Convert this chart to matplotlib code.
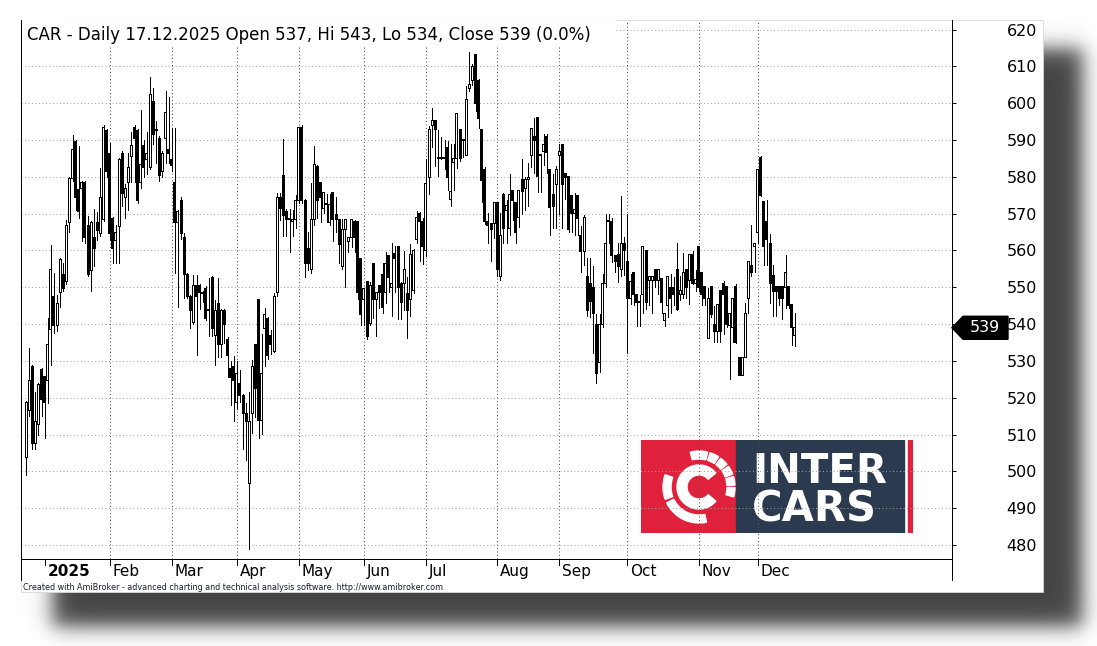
import numpy as np
import pandas as pd
import matplotlib
matplotlib.use("Agg")
import matplotlib.pyplot as plt
import matplotlib.transforms as mtransforms
from matplotlib.patches import Rectangle, Polygon, Wedge
from matplotlib.lines import Line2D

# GPW session calendar, 18.12.2024 - 17.12.2025
holidays = ["2024-12-24", "2024-12-25", "2024-12-26", "2024-12-31",
            "2025-01-01", "2025-01-06", "2025-04-18", "2025-04-21",
            "2025-05-01", "2025-06-19", "2025-08-15", "2025-11-11"]

# CAR daily OHLC
opens = [
    503.8, 516.5, 528.6, 507.6, 512.8, 527.8,
    525.7, 524.6, 538.6, 547.6, 539.7, 548.6, 553.6, 551.5, 567.6, 579.6, 589.5,
    576.6, 576.7, 578.5, 566.7, 554.5, 563.6, 567.7, 564.7, 568.5, 592.5,
    586.4, 568.6, 562.8, 566.5, 586.4, 574.4, 578.4, 585.5, 593.5, 592.5,
    578.4, 588.6, 584.6, 582.6, 600.5, 592.5, 590.5, 581.4, 590.5, 587.5,
    584.6, 578.5, 567.7, 573.7, 563.6, 553.5, 547.5, 540.5, 550.6, 550.6, 548.3,
    549.7, 543.8, 552.7, 537.0, 545.7, 534.5, 543.8, 535.7, 528.0, 528.6,
    518.7, 523.9, 520.7, 515.8, 496.7, 515.8, 534.5, 546.7, 513.7, 538.7,
    541.6, 536.8, 532.5, 548.6, 574.5, 580.4, 570.6, 568.5, 568.0, 568.3,
    573.6, 593.5, 573.6, 560.6, 554.7, 568.5, 582.8, 578.5, 571.5, 572.6, 567.6,
    575.7, 569.7, 568.5, 555.6, 565.6, 562.4, 563.6, 567.8, 567.8, 557.7,
    546.7, 551.7, 540.2, 556.5, 546.7, 550.6, 553.6, 548.6, 558.7, 550.0,
    559.1, 561.2, 551.1, 551.1, 548.4, 546.8, 549.0, 563.0, 570.1, 567.8,
    560.0, 579.9, 593.9, 595.2, 585.1, 585.1, 585.0, 588.0, 573.9, 583.9, 585.1, 592.9,
    590.0, 585.8, 603.9, 606.1, 613.1, 606.1, 592.9, 582.1, 567.8, 567.2, 567.2,
    573.1, 552.9, 575.1, 570.8, 566.0, 576.2, 573.1, 569.0, 579.2, 576.9,
    579.2, 585.9, 591.0, 596.1, 585.9, 586.8, 591.0, 581.9, 575.1, 578.0,
    585.9, 588.9, 580.8, 580.0, 574.9, 570.1, 574.9, 564.0, 559.7, 552.9, 550.9,
    550.0, 540.0, 529.7, 540.0, 551.0, 568.0, 568.0, 558.7, 558.9, 554.8, 561.9,
    557.1, 546.9, 554.0, 548.1, 545.8, 548.1, 560.1, 551.9, 551.9, 554.8, 551.9, 552.4,
    541.1, 545.1, 550.0, 550.0, 554.8, 548.1, 548.1, 554.8, 551.9, 558.9, 551.0,
    561.2, 554.0, 550.1, 536.1, 550.1, 540.0, 538.1, 549.0, 551.0, 550.1,
    539.7, 539.0, 550.1, 531.0, 526.1, 531.0, 547.0, 556.0, 561.0,
    564.8, 585.2, 573.2, 568.0, 561.9, 553.1, 550.1, 550.1, 550.1, 550.0, 550.1, 545.2, 537.0,
]
highs = [
    519.0, 533.4, 529.0, 521.6, 524.0, 528.0,
    526.0, 541.6, 561.5, 554.0, 548.0, 558.0, 556.5, 568.3, 580.0, 591.4, 590.0,
    588.4, 579.0, 579.0, 569.4, 568.0, 571.2, 570.5, 582.3, 594.0, 593.0,
    589.1, 569.0, 567.0, 585.0, 587.0, 578.0, 586.4, 592.1, 594.0, 593.0,
    598.1, 590.0, 592.1, 607.1, 604.1, 595.2, 591.0, 587.0, 603.4, 601.6,
    593.2, 593.2, 571.0, 574.4, 564.7, 554.0, 548.0, 553.4, 553.4, 551.0, 549.0,
    550.3, 552.5, 553.0, 546.6, 552.4, 544.0, 544.0, 536.6, 530.0, 531.3,
    530.0, 527.5, 521.0, 518.5, 521.6, 530.3, 534.5, 546.7, 537.2, 544.3,
    542.0, 538.4, 548.4, 575.6, 575.6, 590.2, 571.2, 571.2, 571.0, 575.0,
    593.5, 594.0, 574.0, 565.1, 578.3, 588.4, 583.2, 578.5, 575.7, 575.4, 575.4,
    576.0, 574.6, 568.5, 568.5, 568.5, 563.6, 568.5, 568.4, 568.1, 557.7,
    549.7, 551.7, 551.4, 556.5, 548.6, 550.6, 556.5, 559.7, 558.7, 562.0,
    561.1, 561.2, 551.5, 559.9, 552.7, 561.8, 560.3, 570.6, 570.5, 568.7,
    584.8, 593.8, 598.6, 595.5, 592.8, 590.8, 589.9, 589.6, 589.0, 589.0, 597.1, 593.0,
    590.2, 604.7, 613.9, 610.7, 613.5, 606.5, 593.0, 582.8, 570.1, 567.2, 573.1,
    573.1, 570.1, 575.5, 573.7, 580.8, 576.2, 573.1, 576.2, 584.8, 579.9,
    583.7, 593.0, 596.0, 596.1, 586.0, 591.7, 591.7, 582.0, 580.8, 583.0,
    589.0, 588.9, 580.8, 580.0, 575.0, 575.6, 575.0, 566.7, 569.6, 557.9, 557.9,
    555.7, 542.7, 542.7, 553.7, 570.0, 570.0, 568.9, 558.7, 561.9, 574.7, 563.7,
    570.0, 553.7, 554.0, 548.1, 547.8, 561.0, 560.1, 552.8, 552.8, 555.0, 554.8, 552.4,
    543.0, 553.0, 553.7, 552.9, 561.9, 553.0, 559.2, 554.8, 558.9, 559.8, 554.7,
    561.2, 554.0, 550.1, 549.7, 550.1, 545.0, 545.2, 549.0, 551.7, 550.1,
    542.9, 547.0, 550.9, 531.0, 531.0, 545.6, 557.1, 566.9, 561.9,
    582.1, 585.7, 573.2, 573.7, 564.6, 556.0, 550.1, 550.1, 550.1, 558.8, 550.1, 545.2, 543.0,
]
lows = [
    499.0, 515.0, 506.0, 506.0, 510.0, 515.0,
    509.0, 518.7, 528.9, 537.7, 538.0, 544.7, 549.0, 551.0, 564.9, 579.0, 571.0,
    568.8, 562.7, 562.0, 553.0, 549.0, 555.8, 562.9, 564.0, 568.0, 580.0,
    562.9, 556.7, 556.7, 556.7, 572.0, 568.8, 571.0, 578.7, 578.7, 573.0,
    577.0, 580.0, 580.7, 582.0, 589.0, 583.7, 579.0, 580.0, 583.7, 583.7,
    581.7, 553.8, 544.7, 563.0, 547.0, 547.0, 538.9, 540.0, 531.6, 544.0, 546.0,
    541.0, 536.9, 536.9, 528.9, 531.0, 531.0, 535.0, 525.7, 518.0, 513.8,
    517.0, 518.9, 506.0, 503.1, 479.0, 510.3, 514.9, 509.0, 510.1, 528.6,
    530.5, 532.0, 532.5, 547.6, 568.3, 563.8, 563.8, 559.7, 563.8, 566.0,
    573.0, 573.0, 552.9, 554.7, 554.0, 566.8, 568.8, 567.8, 570.1, 567.8, 567.0,
    562.7, 565.0, 556.7, 555.0, 550.0, 559.7, 560.9, 559.7, 546.7, 539.8,
    539.8, 536.0, 539.8, 541.6, 536.9, 544.3, 543.0, 545.7, 548.6, 542.2,
    548.6, 541.3, 541.3, 543.8, 536.3, 542.3, 548.4, 562.0, 557.2, 556.3,
    558.6, 575.3, 588.2, 583.0, 580.1, 584.8, 582.0, 576.3, 572.2, 576.3, 582.3, 584.2,
    585.3, 585.8, 603.2, 605.0, 598.0, 593.2, 573.3, 567.2, 562.1, 557.2, 563.3,
    553.0, 552.0, 562.1, 562.1, 564.2, 568.3, 562.0, 566.3, 570.0, 571.0,
    572.1, 582.8, 581.0, 576.0, 576.0, 583.2, 581.0, 564.2, 566.0, 566.0,
    570.0, 566.0, 574.0, 565.0, 565.0, 564.2, 564.2, 554.2, 556.0, 542.2, 542.0,
    532.2, 524.0, 527.0, 539.2, 550.0, 561.9, 557.0, 554.2, 551.5, 553.0, 553.3,
    532.2, 545.4, 545.1, 539.4, 539.4, 543.0, 544.2, 545.1, 543.0, 550.0, 548.3, 543.0,
    539.4, 542.0, 543.0, 545.1, 543.9, 546.5, 547.0, 547.0, 545.4, 551.0, 549.0,
    549.0, 545.3, 545.3, 536.1, 542.0, 535.2, 535.2, 535.2, 537.2, 539.3,
    525.2, 535.2, 535.0, 526.1, 526.1, 531.0, 543.1, 553.0, 554.2,
    561.9, 574.9, 556.0, 556.0, 545.8, 542.3, 542.3, 545.3, 541.3, 544.3, 544.3, 534.3, 534.0,
]
closes = [
    518.8, 524.6, 507.6, 513.5, 523.6, 519.4,
    518.7, 534.5, 554.7, 539.5, 545.7, 557.6, 549.7, 566.7, 579.6, 587.5, 574.4,
    570.6, 578.5, 563.5, 553.5, 567.6, 560.6, 565.4, 574.5, 593.5, 581.4,
    564.7, 560.6, 564.9, 584.6, 575.5, 576.9, 582.6, 588.6, 590.3, 573.6,
    583.4, 582.5, 586.4, 602.4, 591.4, 592.5, 580.3, 586.4, 597.6, 586.4,
    583.2, 567.7, 570.6, 564.7, 553.5, 547.5, 543.7, 550.6, 547.5, 548.6, 548.6,
    541.6, 543.6, 538.7, 543.8, 534.5, 543.8, 539.8, 531.4, 525.5, 524.6,
    526.6, 520.7, 515.8, 513.5, 513.5, 528.6, 522.6, 513.7, 526.6, 542.7,
    531.4, 534.5, 547.5, 574.5, 571.5, 569.4, 568.3, 568.3, 568.5, 573.6,
    593.5, 573.6, 556.5, 556.5, 568.5, 583.4, 573.7, 574.4, 575.7, 572.6, 572.6,
    568.5, 568.5, 561.7, 565.6, 568.5, 563.6, 568.5, 563.5, 548.6, 542.7,
    549.7, 536.6, 550.6, 546.7, 548.6, 548.6, 544.6, 556.5, 552.6, 551.1,
    557.9, 550.0, 546.0, 554.9, 543.8, 559.0, 560.0, 569.0, 567.8, 561.0,
    578.1, 592.9, 595.2, 592.9, 585.1, 585.2, 585.3, 579.9, 576.0, 585.1, 597.1, 585.1,
    590.0, 601.1, 605.0, 610.1, 600.0, 595.8, 579.0, 567.8, 566.9, 565.8, 573.1,
    554.7, 564.2, 566.0, 572.1, 575.1, 573.7, 564.9, 576.2, 576.0, 579.2,
    579.9, 593.0, 590.0, 580.1, 585.9, 588.9, 586.6, 571.8, 571.9, 582.1,
    586.8, 577.8, 579.9, 565.8, 570.1, 571.0, 568.7, 559.7, 569.0, 543.8, 546.1,
    542.9, 526.7, 540.0, 551.0, 561.9, 568.0, 558.7, 556.9, 555.7, 561.9, 560.1,
    546.9, 551.5, 548.1, 545.9, 545.9, 561.0, 545.8, 552.8, 552.8, 551.9, 554.8, 545.8,
    542.9, 552.8, 547.0, 548.1, 543.9, 549.0, 553.9, 549.9, 558.9, 551.0, 552.0,
    549.9, 548.1, 547.0, 547.0, 542.7, 538.1, 545.2, 538.1, 548.1, 540.0,
    542.9, 547.0, 535.0, 526.1, 531.0, 542.9, 557.1, 554.0, 561.9,
    582.1, 574.9, 561.0, 563.0, 550.9, 548.8, 548.8, 547.0, 547.0, 554.0, 545.0, 539.0, 539.0,
]

month_names = ["2025", "Feb", "Mar", "Apr", "May", "Jun", "Jul", "Aug", "Sep", "Oct", "Nov", "Dec"]
price_ticks = list(range(480, 621, 10))
title = "CAR - Daily 17.12.2025 Open 537, Hi 543, Lo 534, Close 539 (0.0%)"
footer = ("Created with AmiBroker - advanced charting and technical analysis "
          "software. http://www.amibroker.com")
last_close = 539

W, H = 1097, 646
fig = plt.figure(figsize=(W / 100, H / 100), dpi=100)

# background: drop shadow + white panel
bg = fig.add_axes([0, 0, 1, 1], zorder=0)
bg.set_xlim(0, W)
bg.set_ylim(H, 0)
bg.axis("off")
yy, xx = np.mgrid[0:H, 0:W]


def soft(a, lo, hi, s):
    return 1 / (1 + np.exp(-(a - lo) / s)) / (1 + np.exp((a - hi) / s))


alpha = soft(xx, 52, 1082, 6.0) * soft(yy, 48, 626, 6.0)
shadow = np.dstack([np.full((H, W), 0.25)] * 3 + [alpha * 0.98])
bg.imshow(shadow, extent=(0, W, H, 0), aspect="auto", interpolation="bilinear", zorder=0)
bg.add_patch(Rectangle((21, 20), 1022, 572, facecolor="white", edgecolor="#d8d8d8",
                       lw=0.6, zorder=1))

# Inter Cars logo (sits under the grid)
lx = fig.add_axes([641 / W, 1 - 533 / H, 272 / W, 93 / H], zorder=1)
lx.set_xlim(641, 913)
lx.set_ylim(0, 93)
lx.axis("off")
red, navy = "#E0213B", "#2C3A4F"
lx.add_patch(Rectangle((641, 0), 95, 93, color=red))
lx.add_patch(Rectangle((736, 0), 168, 93, color=navy))
lx.add_patch(Rectangle((908, 0), 5, 93, color=red))
cx, cy = 699, 46
lx.add_patch(Wedge((cx, cy), 22, 40, 320, width=10, color="white"))
for a1, a2 in [(160, 200), (206, 282), (76, 104), (57, 72), (39, 53), (21, 35), (3, 17), (-16, -1)]:
    lx.add_patch(Wedge((cx, cy), 36, a1, a2, width=8, color="white"))
lx.text(752, 50, "INTER", color="white", fontsize=29, fontweight="bold", ha="left", va="baseline")
lx.text(752, 12, "CARS", color="white", fontsize=30, fontweight="bold", ha="left", va="baseline")

# main price pane
ax = fig.add_axes([21 / W, 1 - 559 / H, 931 / W, 539 / H], zorder=2)
ax.patch.set_visible(False)
ax.set_xlim(-5 / 3.1, 926 / 3.1)
ax.set_ylim(476.2, 622.6)

dates = pd.bdate_range("2024-12-18", "2025-12-17", freq="C", holidays=holidays)
months = dates.to_period("M")
starts = [i for i in range(1, len(dates)) if months[i] != months[i - 1]]

for v in price_ticks:
    ax.axhline(v, color="#a4a4a4", lw=0.72, ls=(0, (1, 2.5)), zorder=1)
for m in starts[1:]:
    ax.axvline(m, color="#555555", lw=0.72, ls=(0, (1, 2.5)), zorder=1)

# title box hides the grid behind the caption
ax.add_patch(Rectangle((21 / W, 1 - 45 / H), 595 / W, 25 / H, transform=fig.transFigure,
                       facecolor="white", edgecolor="none", zorder=2.5))
ax.text(27 / W, 1 - 39.5 / H, title, transform=fig.transFigure, fontsize=12,
        ha="left", va="baseline", zorder=6)

# candles: 1px wick, 3px body, hollow bodies keep a 1px white core
x = np.arange(len(opens))
o, h, l, c = map(np.array, (opens, highs, lows, closes))
ax.vlines(x, l, h, color="black", lw=0.72, antialiased=False, zorder=3)
px_x = 1 / 3.1          # data units per pixel, x
px_y = 1 / 3.68         # data units per pixel, y
for xi, oi, ci in zip(x, o, c):
    lo_b, hi_b = min(oi, ci), max(oi, ci)
    hgt = max(hi_b - lo_b, px_y)
    ax.add_patch(Rectangle((xi - 1.5 * px_x, lo_b - 0.5 * px_y), 3 * px_x, hgt + px_y,
                           facecolor="black", linewidth=0, antialiased=False, zorder=4))
    if ci > oi and hi_b - lo_b > px_y:
        ax.add_patch(Rectangle((xi - 0.5 * px_x, lo_b + 0.5 * px_y), px_x, hi_b - lo_b - px_y,
                               facecolor="white", linewidth=0, antialiased=False, zorder=5))

# axes frame
for s in ["left", "right", "bottom"]:
    ax.spines[s].set_linewidth(0.72)
    ax.spines[s].set_color("black")
ax.spines["top"].set_visible(False)
ax.set_xticks([])
ax.yaxis.tick_right()
ax.set_yticks(price_ticks)
ax.tick_params(axis="y", direction="out", length=2.9, width=0.72, pad=36.5,
               labelsize=11.5, colors="black")
for xp in (21, 952):
    fig.add_artist(Line2D([xp / W, xp / W], [1 - 559 / H, 1 - 580 / H], color="black", lw=0.72))

# month ticks + labels
xtr = ax.get_xaxis_transform()
lab_tr = mtransforms.offset_copy(xtr, fig=fig, x=3, y=-12.7, units="dots")
for m, name in zip(starts, month_names):
    ax.plot([m, m], [0, -6 / 539], transform=xtr, color="black", lw=0.72, clip_on=False)
    ax.text(m, 0, name, transform=lab_tr, ha="left", va="center", fontsize=11,
            fontweight="bold" if name == "2025" else "normal", clip_on=False)

# last price marker
ytr = ax.get_yaxis_transform()
half = 11.5 / 3.68
x0, x1, x2 = 1.0, 1 + 11 / 931, 1 + 56 / 931
ax.add_patch(Polygon([(x0, last_close), (x1, last_close + half), (x2, last_close + half),
                      (x2, last_close - half), (x1, last_close - half)], closed=True,
                     transform=ytr, facecolor="black", edgecolor="black", clip_on=False, zorder=6))
ax.text(1 + 33 / 931, last_close, str(last_close), transform=ytr, color="white",
        ha="center", va="center", fontsize=11.5, zorder=7, clip_on=False)

fig.text(23 / W, 1 - 587 / H, footer, fontsize=5.8, ha="left", va="center", color="#1a1a33")

fig.savefig("out.png", dpi=100)
